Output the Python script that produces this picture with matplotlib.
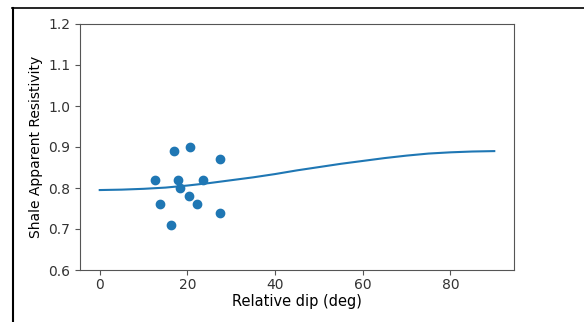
import matplotlib
matplotlib.use("Agg")
import matplotlib.pyplot as plt
from matplotlib.lines import Line2D

# measured data points
dip_pts = [12.7, 13.8, 16.2, 17.0, 17.9, 18.3, 20.6, 20.3, 22.3, 23.5, 27.4, 27.4]
res_pts = [0.82, 0.76, 0.71, 0.89, 0.82, 0.80, 0.90, 0.78, 0.76, 0.82, 0.87, 0.74]

# model curve
dip_curve = [0, 5, 10, 15, 20, 25, 30, 35, 40, 45, 50, 55, 60, 65, 70, 75, 80, 85, 90]
res_curve = [0.795, 0.796, 0.798, 0.801, 0.806, 0.812, 0.819, 0.826, 0.834, 0.843,
             0.851, 0.859, 0.866, 0.873, 0.879, 0.884, 0.887, 0.889, 0.890]

W, H = 584, 322
DPI = 100
plt.rcParams["font.size"] = 10
fig = plt.figure(figsize=(W / DPI, H / DPI), dpi=DPI)
ax = fig.add_axes([80 / W, 52 / H, 434 / W, 246 / H])

ax.scatter(dip_pts, res_pts)
ax.plot(dip_curve, res_curve)
ax.set_ylim(0.6, 1.2)
ax.set_xlabel("Relative dip (deg)", fontsize=10.5, labelpad=1.5)
ax.set_ylabel("Shale Apparent Resistivity", labelpad=4)
for s in ax.spines.values():
    s.set_color("#555555")
ax.tick_params(colors="#555555", labelcolor="#333333", labelsize=10)
ax.tick_params(axis="x", pad=2.5)

# screenshot frame
fig.add_artist(Line2D([12 / W, 1], [1 - 8 / H, 1 - 8 / H], color="black", lw=1.2,
                      transform=fig.transFigure))
fig.add_artist(Line2D([13 / W, 13 / W], [0, 1 - 7.5 / H], color="black", lw=1.5,
                      transform=fig.transFigure))

fig.savefig("out.png", dpi=DPI)
